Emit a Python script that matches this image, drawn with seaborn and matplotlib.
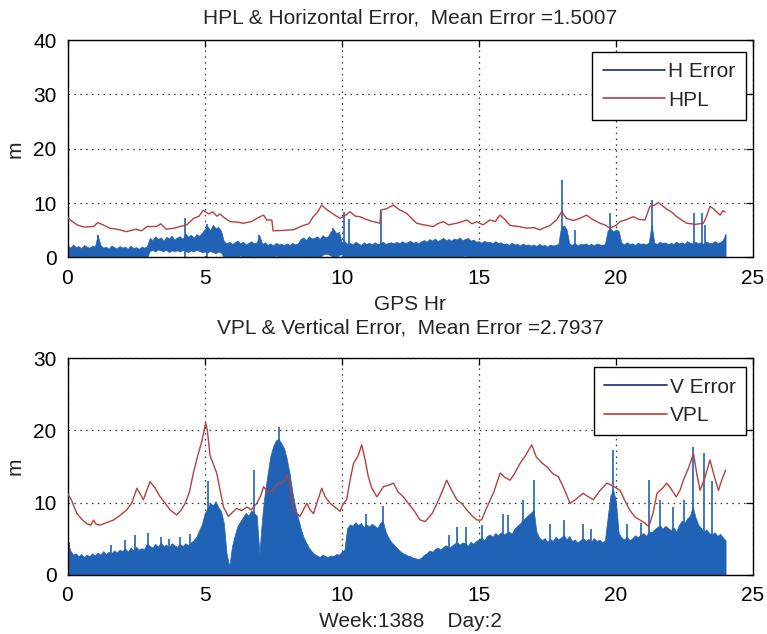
import numpy as np
import pandas as pd
import seaborn as sns
import matplotlib.pyplot as plt
from matplotlib.lines import Line2D

# ---------------- data ----------------
hpl_t = [0, 0.1, 0.35, 0.6, 0.95, 1.1, 1.3, 1.55, 1.9, 2.15, 2.5, 2.7, 2.9, 3.25, 3.4, 3.6, 3.9, 4.1,
         4.35, 4.6, 4.8, 4.95, 5.15, 5.3, 5.45, 5.56, 5.75, 5.93, 6.2, 6.41, 6.7, 7.02, 7.15, 7.27, 7.45,
         7.5, 7.9, 8.24, 8.6, 8.8, 8.96, 9.1, 9.27, 9.45, 9.57, 9.75, 9.94, 10.15, 10.3, 10.5, 10.67,
         10.9, 11.15, 11.4, 11.42, 11.65, 11.88, 12.1, 12.37, 12.55, 12.73, 13.0, 13.34, 13.5, 13.7,
         13.9, 14.19, 14.4, 14.56, 14.75, 14.92, 15.15, 15.41, 15.6, 15.77, 15.95, 16.14, 16.45, 16.75,
         17.0, 17.23, 17.45, 17.6, 17.85, 18.02, 18.2, 18.45, 18.69, 18.93, 19.15, 19.42, 19.6, 19.78,
         20.0, 20.15, 20.4, 20.63, 20.85, 21.06, 21.24, 21.4, 21.55, 21.7, 21.85, 22.05, 22.22, 22.4,
         22.58, 22.9, 23.19, 23.3, 23.43, 23.55, 23.67, 23.8, 23.9, 23.98]
hpl_v = [7.4, 6.9, 6.0, 5.6, 5.7, 6.4, 6.0, 5.4, 5.1, 4.75, 5.2, 4.9, 5.7, 5.7, 6.2, 5.2, 5.4, 5.7,
         6.0, 7.2, 7.6, 8.7, 8.0, 8.4, 7.6, 8.0, 7.2, 6.6, 6.5, 6.3, 6.6, 7.5, 7.8, 6.9, 6.9,
         4.9, 5.0, 5.1, 5.9, 6.2, 7.5, 8.2, 9.65, 8.8, 8.4, 7.8, 7.2, 7.8, 8.4, 7.6, 7.5,
         7.0, 6.6, 6.3, 8.7, 9.0, 9.65, 8.8, 8.1, 7.2, 6.3, 6.0, 5.7, 6.2, 6.6,
         6.0, 6.3, 6.6, 6.9, 6.2, 6.6, 6.0, 6.9, 6.6, 7.8, 7.0, 5.9, 5.7, 5.4,
         5.5, 5.1, 5.6, 5.9, 7.0, 8.4, 7.2, 6.8, 7.2, 7.8, 7.0, 6.3, 6.0, 5.4,
         5.9, 6.6, 7.0, 7.5, 7.0, 6.9, 9.4, 9.6, 10.1, 9.5, 8.9, 8.3, 7.5, 6.9,
         6.3, 6.1, 6.3, 7.5, 9.4, 9.0, 8.4, 7.8, 8.6, 8.4]

# H error upper/lower edge, every 0.1 h from 0 to 24
herr_hi = [2.2, 1.8, 2.4, 1.9, 2.1, 1.7, 2.3, 2.0, 1.8, 2.2,
           2.0, 4.1, 2.3, 1.8, 2.0, 1.6, 2.2, 1.9, 1.7, 2.1,
           1.8, 2.0, 1.6, 2.2, 1.7, 1.9, 1.6, 2.0, 1.8, 2.1,
           3.6, 3.2, 3.9, 3.4, 3.7, 3.1, 3.8, 3.5, 4.0, 3.3,
           3.7, 3.9, 3.4, 4.4, 3.8, 4.2, 3.6, 4.3, 4.0, 4.5,
           5.2, 5.8, 5.0, 6.0, 5.4, 5.6, 4.9, 3.0, 2.6, 2.9,
           2.5, 2.8, 3.1, 2.6, 2.9, 2.4, 2.7, 3.0, 2.6, 2.8,
           4.0, 2.5, 2.8, 2.3, 2.6, 2.2, 2.7, 2.4, 2.5, 2.3,
           2.6, 2.3, 2.7, 2.4, 2.6, 3.4, 3.7, 3.2, 3.9, 3.5,
           3.6, 3.9, 3.4, 4.1, 3.7, 3.9, 4.8, 5.2, 4.5, 4.7,
           2.8, 3.0, 2.5, 2.7, 2.4, 2.9, 2.6, 2.3, 2.8, 2.5,
           2.7, 2.4, 2.8, 2.5, 2.6, 2.9, 2.5, 2.7, 2.8, 2.6,
           2.9, 2.6, 3.0, 2.7, 2.8, 3.1, 2.7, 2.9, 2.6, 3.0,
           3.2, 2.9, 3.4, 3.1, 3.5, 3.0, 3.3, 3.6, 3.2, 3.4,
           3.1, 3.5, 3.3, 3.7, 3.2, 3.4, 3.6, 3.1, 3.3, 2.9,
           3.0, 2.7, 3.1, 2.8, 2.9, 2.6, 3.0, 2.7, 2.8, 2.5,
           2.6, 2.3, 2.7, 2.4, 2.5, 2.2, 2.6, 2.3, 2.4, 2.2,
           2.4, 2.1, 2.5, 2.2, 2.3, 2.0, 2.4, 2.2, 2.3, 2.5,
           5.6, 5.9, 5.2, 2.6, 2.3, 2.7, 2.2, 2.5, 2.4, 2.6,
           2.3, 2.5, 2.2, 2.6, 2.4, 2.3, 2.5, 5.0, 5.3, 4.8,
           5.1, 4.9, 2.7, 2.4, 2.8, 2.5, 2.6, 2.3, 2.7, 2.5,
           2.6, 2.4, 2.8, 6.0, 2.7, 2.5, 2.9, 2.6, 2.8, 2.4,
           2.7, 2.5, 2.9, 2.6, 2.8, 2.5, 3.0, 2.7, 2.6, 2.9,
           2.6, 2.8, 2.5, 2.9, 2.7, 2.6, 3.0, 2.7, 2.8, 3.2,
           4.4]
herr_lo = [0, 0, 0, 0, 0, 0, 0, 0, 0, 0,
           0, 0, 0, 0, 0, 0, 0, 0, 0, 0,
           0, 0, 0, 0, 0, 0, 0, 0, 0, 0,
           1.2, 1.4, 1.1, 1.5, 1.3, 1.2, 1.4, 1.0, 1.3, 1.2,
           1.3, 1.1, 1.4, 1.2, 1.0, 1.3, 1.1, 1.4, 1.2, 1.0,
           1.1, 0.9, 1.2, 1.0, 0.8, 1.1, 0.9, 0, 0, 0,
           0, 0, 0, 0.4, 0, 0, 0, 0, 0.3, 0,
           0, 0, 0, 0, 0, 0, 0.4, 0, 0, 0,
           0, 0, 0, 0, 0, 0, 0, 0.3, 0, 0,
           0, 0, 0, 0.5, 0.7, 0.6, 0.4, 0, 0, 0.5,
           0.6, 0, 0, 0, 0, 0, 0, 0, 0, 0,
           0, 0, 0, 0, 0, 0, 0, 0, 0, 0,
           0, 0, 0, 0, 0, 0, 0, 0, 0, 0,
           0, 0, 0, 0, 0, 0, 0, 0, 0, 0,
           0, 0, 0, 0, 0, 0.4, 0, 0, 0, 0,
           0, 0, 0, 0, 0, 0, 0, 0, 0, 0,
           0, 0, 0, 0, 0, 0, 0, 0, 0, 0,
           0, 0, 0, 0, 0, 0, 0, 0, 0, 0,
           0, 0, 0, 0, 0, 0, 0, 0, 0, 0,
           0, 0, 0, 0, 0, 0, 0, 0, 0, 0,
           0, 0, 0, 0, 0, 0, 0, 0, 0, 0,
           0, 0, 0, 0, 0, 0, 0, 0, 0, 0,
           0, 0, 0, 0, 0, 0, 0, 0, 0, 0,
           0, 0, 0, 0, 0, 0, 0, 0, 0, 0,
           0]
herr_spike_t = [1.1, 4.3, 5.1, 7.0, 9.7, 10.1, 10.25, 11.42, 18.05, 18.5, 19.78, 21.3,
                22.85, 23.13, 23.25]
herr_spike_v = [4.1, 7.2, 6.2, 4.1, 5.5, 8.4, 7.0, 8.5, 14.2, 5.1, 8.1, 10.6,
                8.1, 8.1, 5.9]

vpl_t = [0, 0.15, 0.34, 0.55, 0.7, 0.85, 0.95, 1.05, 1.19, 1.4, 1.68, 1.9, 2.16, 2.35, 2.53, 2.65,
         2.77, 2.9, 3.01, 3.2, 3.38, 3.55, 3.74, 3.98, 4.15, 4.29, 4.45, 4.59, 4.75, 4.9, 5.04, 5.1,
         5.2, 5.3, 5.44, 5.55, 5.69, 5.87, 6.0, 6.17, 6.35, 6.54, 6.7, 6.9, 7.05, 7.15, 7.3, 7.51,
         7.62, 7.75, 7.9, 8.0, 8.1, 8.24, 8.48, 8.6, 8.73, 8.85, 8.97, 9.1, 9.27, 9.4, 9.58, 9.75,
         9.94, 10.05, 10.18, 10.3, 10.43, 10.6, 10.73, 10.85, 10.97, 11.1, 11.28, 11.4, 11.52, 11.7,
         11.89, 12.05, 12.25, 12.45, 12.62, 12.86, 13.05, 13.3, 13.55, 13.83, 14.0, 14.2, 14.4,
         14.56, 14.75, 14.93, 15.1, 15.3, 15.55, 15.78, 15.95, 16.14, 16.3, 16.5, 16.7, 16.93,
         17.1, 17.3, 17.5, 17.7, 17.9, 18.1, 18.33, 18.55, 18.8, 19.0, 19.18, 19.4, 19.67, 19.9,
         20.15, 20.3, 20.5, 20.7, 20.88, 21.05, 21.2, 21.35, 21.5, 21.7, 21.85, 22.0, 22.2, 22.35,
         22.46, 22.65, 22.83, 22.95, 23.07, 23.25, 23.43, 23.6, 23.74, 23.85, 24.0]
vpl_v = [11.3, 10.3, 8.5, 7.6, 7.1, 6.9, 7.6, 7.0, 6.9, 7.2, 7.6, 8.2, 9.0, 10.0, 12.0, 11.2,
         10.4, 11.8, 12.9, 12.0, 10.8, 10.0, 9.0, 8.3, 9.0, 9.9, 11.5, 14.1, 16.5, 18.5, 21.0, 20.0,
         16.5, 15.5, 14.1, 12.0, 9.4, 8.1, 8.6, 9.2, 8.9, 9.4, 9.0, 9.9, 11.0, 12.2, 11.5, 11.7,
         12.5, 12.7, 13.0, 13.8, 12.5, 9.0, 8.1, 9.0, 9.9, 9.0, 8.5, 10.0, 12.0, 10.8, 9.9, 9.4,
         8.8, 9.8, 10.4, 13.0, 15.4, 16.5, 18.0, 16.0, 13.6, 12.0, 10.8, 11.5, 12.2, 12.4,
         12.7, 11.5, 10.8, 9.8, 9.0, 7.6, 7.4, 8.5, 10.5, 13.1, 11.8, 10.4, 9.8,
         9.0, 8.2, 7.6, 7.6, 9.4, 11.5, 14.1, 13.5, 13.1, 14.0, 15.4, 16.5, 18.0,
         16.3, 15.5, 14.9, 14.0, 13.6, 12.0, 9.9, 10.5, 11.3, 10.8, 10.4, 11.6, 12.7, 12.3,
         11.7, 10.5, 9.0, 8.0, 7.6, 7.2, 6.7, 8.5, 11.3, 12.0, 12.7, 12.0, 10.8, 11.8,
         13.1, 14.8, 16.8, 14.0, 11.7, 13.5, 15.9, 13.5, 11.7, 13.0, 14.5]

# V error upper/lower edge, every 0.1 h from 0 to 24
verr_hi = [4.6, 3.4, 2.8, 3.0, 2.6, 2.9, 2.5, 2.8, 2.6, 3.0,
           2.7, 3.1, 2.8, 3.3, 2.9, 3.2, 3.0, 3.4, 3.1, 3.5,
           3.3, 3.7, 3.2, 3.8, 3.4, 3.9, 3.5, 3.7, 3.6, 4.4,
           4.0, 3.8, 4.3, 3.9, 4.5, 4.0, 4.2, 3.8, 4.4, 4.1,
           3.9, 4.3, 4.0, 4.4, 4.1, 4.5, 4.8, 5.3, 6.2, 7.0,
           8.5, 9.2, 10.0, 9.6, 10.2, 9.4, 8.8, 7.2, 3.0, 1.2,
           4.0, 5.5, 6.8, 7.4, 8.0, 8.6, 8.2, 8.9, 8.6, 8.2,
           3.0, 8.0, 11.5, 14.0, 16.5, 17.8, 18.6, 18.8, 18.2, 17.5,
           16.0, 14.0, 11.5, 9.5, 8.0, 6.5, 5.3, 4.5, 3.8, 3.3,
           2.9, 2.7, 2.5, 2.8, 2.6, 2.5, 2.7, 2.6, 2.9, 2.8,
           3.2, 3.5, 6.5, 7.0, 6.8, 7.3, 6.9, 7.2, 6.6, 7.0,
           6.7, 7.1, 6.8, 6.5, 7.2, 7.5, 6.0, 5.2, 4.6, 4.2,
           3.8, 3.4, 3.1, 2.9, 2.7, 2.6, 2.4, 2.3, 2.2, 2.4,
           2.8, 3.0, 3.4, 3.2, 3.6, 3.8, 3.5, 3.9, 4.1, 3.8,
           4.0, 4.3, 4.6, 4.2, 4.5, 4.4, 4.0, 4.6, 4.3, 4.7,
           4.9, 5.2, 4.8, 5.4, 5.6, 5.3, 5.8, 5.5, 5.9, 5.6,
           5.8, 6.0, 5.7, 6.4, 6.8, 7.1, 7.6, 7.9, 8.3, 8.6,
           9.0, 6.0, 5.2, 4.8, 5.1, 4.6, 5.0, 4.7, 5.3, 4.9,
           5.2, 5.5, 4.9, 5.4, 4.7, 4.9, 4.5, 4.8, 5.1, 4.7,
           5.0, 4.6, 5.1, 4.7, 4.9, 4.5, 4.8, 8.0, 11.0, 11.8,
           10.2, 5.8, 5.2, 4.9, 5.3, 4.8, 5.1, 5.5, 5.2, 5.6,
           5.8, 5.4, 6.0, 5.9, 6.3, 6.6, 6.9, 6.4, 6.8, 6.5,
           6.2, 6.6, 6.0, 6.9, 7.5, 7.2, 7.8, 8.2, 9.5, 8.0,
           7.0, 6.5, 6.0, 6.3, 5.8, 5.6, 5.9, 5.4, 5.7, 5.2,
           4.8]
verr_spike_t = [0.05, 1.6, 2.1, 2.45, 2.95, 3.4, 3.7, 4.1, 4.45, 5.13, 6.8, 7.72, 10.9, 11.5, 13.9,
                14.2, 14.55, 15.1, 15.9, 16.05, 16.6, 17.0, 17.6, 18.1, 18.8, 19.1, 19.88, 20.4,
                20.9, 21.2, 21.6, 22.1, 22.5, 22.83, 23.23, 23.5]
verr_spike_v = [4.6, 4.2, 4.9, 5.5, 5.8, 5.3, 5.0, 5.3, 5.6, 13.0, 14.5, 20.5, 8.5, 9.5, 5.5,
                6.7, 6.7, 6.9, 8.5, 8.3, 10.4, 13.1, 7.0, 7.6, 7.0, 6.3, 17.3, 7.0,
                7.2, 13.1, 10.4, 9.4, 10.4, 17.7, 16.8, 13.0]

x_ticks = [0, 5, 10, 15, 20, 25]
top_yticks = [0, 10, 20, 30, 40]
bot_yticks = [0, 10, 20, 30]

# ---------------- style ----------------
sns.set_theme(style="white")
plt.rcParams['font.family'] = ['Liberation Sans', 'DejaVu Sans']
FS = 15
BLUE_FILL = '#1f62b6'
BLUE_LINE = '#1c2a78'
RED = '#b3413f'

err_t = np.round(np.arange(0, 24.05, 0.1), 1)

fig = plt.figure(figsize=(7.67, 6.34), dpi=100)
W, H = 767, 634
ax1 = fig.add_axes([67.5 / W, 1 - 257.5 / H, 685.5 / W, 217.5 / H])
ax2 = fig.add_axes([67.5 / W, 1 - 575 / H, 685.5 / W, 217 / H])


def draw(ax, lo, hi, sp_t, sp_v, pl_t, pl_v, yticks, err_lab, pl_lab, title, xlabel,
         tpad, leg_y):
    ax.fill_between(err_t, lo, hi, color=BLUE_FILL, lw=0.5, edgecolor=BLUE_FILL, zorder=2)
    ax.vlines(sp_t, 0, sp_v, color=BLUE_FILL, lw=1.2, zorder=2)
    d = pd.DataFrame({'t': pl_t, 'v': pl_v})
    sns.lineplot(data=d, x='t', y='v', ax=ax, color=RED, lw=1.0, sort=False,
                 estimator=None, zorder=3)
    ax.set_xlim(0, 25)
    ax.set_ylim(yticks[0], yticks[-1])
    ax.set_xticks(x_ticks)
    ax.set_yticks(yticks)
    ax.set_xticklabels([str(v) for v in x_ticks])
    ax.set_yticklabels([str(v) for v in yticks])
    ax.grid(True, color='black', ls=(0, (1.2, 3.5)), lw=0.9, alpha=0.8)
    ax.set_axisbelow(True)
    for s in ax.spines.values():
        s.set_visible(True)
        s.set_color('black')
        s.set_linewidth(1.0)
    ax.tick_params(direction='in', length=5, width=0.9, top=True, right=True,
                   labelsize=FS, pad=8, colors='black')
    ax.set_ylabel('m', fontsize=FS, labelpad=6)
    ax.set_xlabel(xlabel, fontsize=FS, labelpad=5)
    ax.set_title(title, fontsize=FS, pad=tpad)
    handles = [Line2D([], [], color=BLUE_LINE, lw=1.2), Line2D([], [], color=RED, lw=1.2)]
    leg = ax.legend(handles, [err_lab, pl_lab], loc='upper right',
                    bbox_to_anchor=(0.9898, leg_y), borderaxespad=0, fontsize=FS,
                    frameon=True, fancybox=False, edgecolor='black', framealpha=1,
                    handlelength=3.0, handletextpad=0.15, labelspacing=0.45,
                    borderpad=0.5)
    leg.get_frame().set_linewidth(1.0)


draw(ax1, herr_lo, herr_hi, herr_spike_t, herr_spike_v, hpl_t, hpl_v, top_yticks,
     'H Error', 'HPL', 'HPL & Horizontal Error,  Mean Error =1.5007', 'GPS Hr', 12, 0.945)
draw(ax2, [0] * len(err_t), verr_hi, verr_spike_t, verr_spike_v, vpl_t, vpl_v, bot_yticks,
     'V Error', 'VPL', 'VPL & Vertical Error,  Mean Error =2.7937', 'Week:1388    Day:2',
     18, 0.958)

fig.savefig('out.png', dpi=100, facecolor='white')
